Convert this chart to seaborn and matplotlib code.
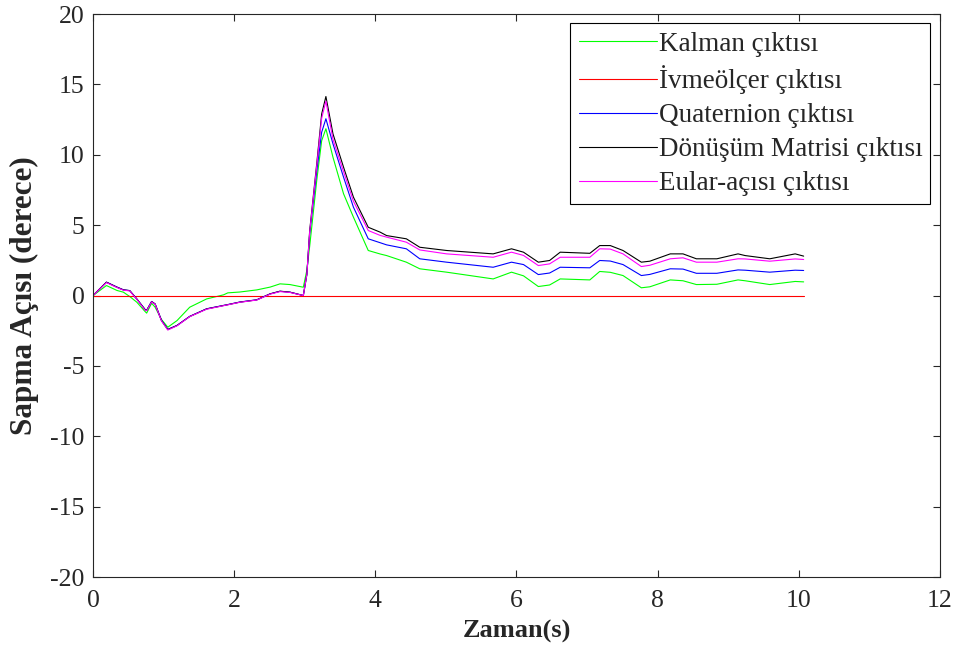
import numpy as np
import pandas as pd
import seaborn as sb
from matplotlib import pyplot as plt

# time axis (s)
zaman = [0, 0.19, 0.34, 0.43, 0.52, 0.62, 0.74, 0.76, 0.83, 0.88, 0.97, 1.06, 1.19, 1.37,
         1.61, 1.85, 1.91, 2.08, 2.32, 2.51, 2.65, 2.79, 2.98, 3.03, 3.07, 3.17, 3.24, 3.30,
         3.40, 3.55, 3.69, 3.90, 4.07, 4.16, 4.44, 4.63, 5.01, 5.67, 5.93, 6.10, 6.31, 6.47,
         6.62, 7.04, 7.18, 7.33, 7.51, 7.77, 7.89, 8.18, 8.36, 8.55, 8.84, 9.14, 9.24, 9.59,
         9.95, 10.07]

kalman = [0, 0.71, 0.36, 0.24, -0.07, -0.47, -1.15, -1.25, -0.55, -0.83, -1.7, -2.25, -1.78, -0.83,
          -0.24, 0.05, 0.19, 0.25, 0.4, 0.6, 0.83, 0.78, 0.59, 1.8, 3.5, 8.17, 11.0, 11.85,
          9.83, 7.23, 5.57, 3.2, 2.95, 2.84, 2.37, 1.9, 1.66, 1.18, 1.66, 1.4, 0.64, 0.75,
          1.18, 1.11, 1.71, 1.65, 1.42, 0.55, 0.62, 1.11, 1.05, 0.78, 0.8, 1.11, 1.05, 0.78,
          1.0, 0.97]

ivmeolcer = [0.0] * len(zaman)

quaternion = [0, 0.95, 0.6, 0.41, 0.35, -0.24, -1.0, -1.05, -0.42, -0.6, -1.76, -2.4, -2.12, -1.48,
              -0.94, -0.7, -0.64, -0.46, -0.3, 0.12, 0.3, 0.24, 0.0, 1.5, 4.4, 8.8, 11.6, 12.56,
              10.78, 8.41, 6.28, 4.03, 3.75, 3.6, 3.32, 2.61, 2.37, 2.01, 2.37, 2.2, 1.49, 1.6,
              2.01, 1.97, 2.49, 2.45, 2.2, 1.42, 1.5, 1.9, 1.88, 1.58, 1.58, 1.82, 1.8, 1.66,
              1.8, 1.78]

donusum = [0, 0.95, 0.59, 0.4, 0.35, -0.24, -1.02, -1.06, -0.43, -0.6, -1.78, -2.42, -2.13, -1.49,
           -0.95, -0.71, -0.65, -0.47, -0.31, 0.12, 0.31, 0.24, 0.0, 1.5, 4.6, 9.36, 12.9, 14.14,
           11.49, 9.12, 6.99, 4.85, 4.5, 4.26, 4.03, 3.43, 3.2, 2.96, 3.32, 3.08, 2.37, 2.49,
           3.08, 3.0, 3.55, 3.55, 3.2, 2.37, 2.44, 2.96, 2.96, 2.61, 2.61, 2.96, 2.84, 2.61,
           2.96, 2.8]

eular = [0, 0.92, 0.57, 0.38, 0.33, -0.26, -1.05, -1.08, -0.45, -0.62, -1.8, -2.45, -2.15, -1.5,
         -0.97, -0.72, -0.66, -0.48, -0.32, 0.1, 0.28, 0.22, 0.0, 1.5, 4.5, 9.2, 12.6, 13.81,
         11.1, 8.8, 6.7, 4.62, 4.27, 4.15, 3.79, 3.24, 2.96, 2.72, 3.08, 2.85, 2.13, 2.25,
         2.72, 2.72, 3.32, 3.3, 2.96, 2.06, 2.15, 2.61, 2.68, 2.37, 2.37, 2.61, 2.6, 2.44,
         2.6, 2.56]

labels = ['Kalman çıktısı', 'İvmeölçer çıktısı', 'Quaternion çıktısı',
          'Dönüşüm Matrisi çıktısı', 'Eular-açısı çıktısı']
colors = ['#00ff00', '#ff0000', '#0000ff', '#000000', '#ff00ff']

sb.set_style('ticks')
plt.rcParams['font.family'] = ['Liberation Serif', 'DejaVu Serif']
plt.rcParams['axes.unicode_minus'] = False
plt.rcParams['xtick.direction'] = 'in'
plt.rcParams['ytick.direction'] = 'in'

df = pd.DataFrame({'t': zaman, 'Kalman çıktısı': kalman, 'İvmeölçer çıktısı': ivmeolcer,
                   'Quaternion çıktısı': quaternion, 'Dönüşüm Matrisi çıktısı': donusum,
                   'Eular-açısı çıktısı': eular})

fig = plt.figure(figsize=(9.61, 6.55), dpi=100)
ax = fig.add_axes([0.0968, 0.119, 0.8812, 0.8596])

for lab, col in zip(labels, colors):
    sb.lineplot(data=df, x='t', y=lab, color=col, label=lab, linewidth=0.8, ax=ax)

ax.set_xlim(0, 12)
ax.set_ylim(-20, 20)
ax.set_xticks(np.arange(0, 13, 2))
ax.set_yticks(np.arange(-20, 21, 5))
ax.tick_params(labelsize=18.5, length=5, width=0.8, top=True, right=True)
ax.tick_params(axis='x', pad=9)
ax.tick_params(axis='y', pad=6)
for s in ax.spines.values():
    s.set_linewidth(0.8)
    s.set_visible(True)

ax.set_xlabel('Zaman(s)', fontsize=19, fontweight='bold', labelpad=6)
ax.set_ylabel('Sapma Açısı (derece)', fontsize=22.5, fontweight='bold', labelpad=8)

leg = ax.legend(loc='upper right', fontsize=19.5, frameon=True, fancybox=False,
                edgecolor='black', framealpha=1, handlelength=2.9, handletextpad=0.05,
                borderpad=0.3, labelspacing=0.33, borderaxespad=0.35)
leg.get_frame().set_linewidth(0.8)

plt.savefig('out.png', dpi=100)
